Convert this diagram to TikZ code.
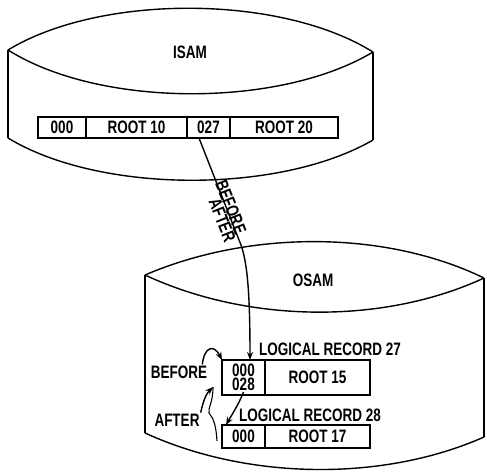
\documentclass[tikz,border=0pt]{standalone}
\usepackage{fontspec}
\setmainfont{Liberation Sans}[FakeStretch=0.75]
\usetikzlibrary{positioning,arrows.meta}

\begin{document}
\begin{tikzpicture}[x=1pt, y=-1pt, >={Stealth[length=8pt,width=6pt]},
    line width=1.4pt,
    every node/.style={font=\fontsize{18}{14.5}\selectfont\bfseries},
    cell/.style={draw, inner sep=0pt, outer sep=0pt},
    lbl/.style={inner sep=0.5pt}]
    \useasboundingbox (0,0) rectangle (487,474);

    % ISAM cylinder
    \draw (8,50) .. controls (100,-6) and (280,-6) .. (373,52);
    \draw (8,50) .. controls (100,108) and (280,108) .. (373,52);
    \draw (8,50) -- (8,138);
    \draw (373,52) -- (373,140);
    \draw (8,138) .. controls (100,194) and (280,194) .. (373,140);
    \node (isam) at (190,52) {ISAM};

    % ISAM record strip
    \node[cell, minimum width=48pt, minimum height=21pt, anchor=west] (i000) at (38,127.5) {000};
    \node[cell, minimum width=101pt, minimum height=21pt, right=0pt of i000] (iroot10) {ROOT 10};
    \node[cell, minimum width=43pt, minimum height=21pt, right=0pt of iroot10] (i027) {027};
    \node[cell, minimum width=108pt, minimum height=21pt, right=0pt of i027] (iroot20) {ROOT 20};

    % OSAM cylinder
    \draw (145,275) .. controls (250,230) and (385,230) .. (484,278);
    \draw (145,275) .. controls (250,324) and (385,324) .. (484,278);
    \draw (145,275) -- (145,433);
    \draw (484,278) -- (484,437);
    \draw (145,433) .. controls (250,481) and (385,481) .. (484,437);
    \node (osam) at (313,280) {OSAM};

    % Logical record 27
    \node[cell, minimum width=43pt, minimum height=35pt, anchor=west, align=center] (r27a) at (222,377.5) {000\\028};
    \node[cell, minimum width=105pt, minimum height=35pt, right=0pt of r27a] (r27b) {ROOT 15};
    \node[lbl, anchor=west] (l27) at (258,349) {LOGICAL RECORD 27};

    % Logical record 28
    \node[cell, minimum width=43pt, minimum height=23pt, anchor=west] (r28a) at (222,436.5) {000};
    \node[cell, minimum width=105pt, minimum height=23pt, right=0pt of r28a] (r28b) {ROOT 17};
    \node[lbl, anchor=west] (l28) at (238,415) {LOGICAL RECORD 28};

    % Before / after labels
    \node[lbl] (bef) at (179,372) {BEFORE};
    \node[lbl] (aft) at (177,420) {AFTER};

    % Pointers
    \coordinate (kink) at (241,245);
    \draw[->] ([xshift=-9.5pt]i027.south) -- node[lbl, sloped, above, pos=0.66, yshift=-3pt] {BEFORE}
        node[lbl, sloped, below, pos=0.74, yshift=-1pt] {AFTER} (kink)
        .. controls (247,262) and (250,290) .. ([xshift=6.5pt]r27a.north);
    \draw[->] ([xshift=-6pt]bef.north east) .. controls +(2,-18) and +(-8,-16) .. (r27a.north west);
    \coordinate (braceTop) at (213,387);
    \draw[->] (aft.north east) .. controls +(3,-14) and +(-6,6) .. (braceTop);
    \draw[line width=1.1pt] (braceTop) .. controls (213,403) and (208,407) .. (209,413)
        .. controls (214,419) and (216,426) .. (217,441);
    \draw[->] ([yshift=3pt]r27a.south) .. controls +(-5,13) and +(5,-9) .. ([xshift=4pt]r28a.north west);
\end{tikzpicture}
\end{document}
